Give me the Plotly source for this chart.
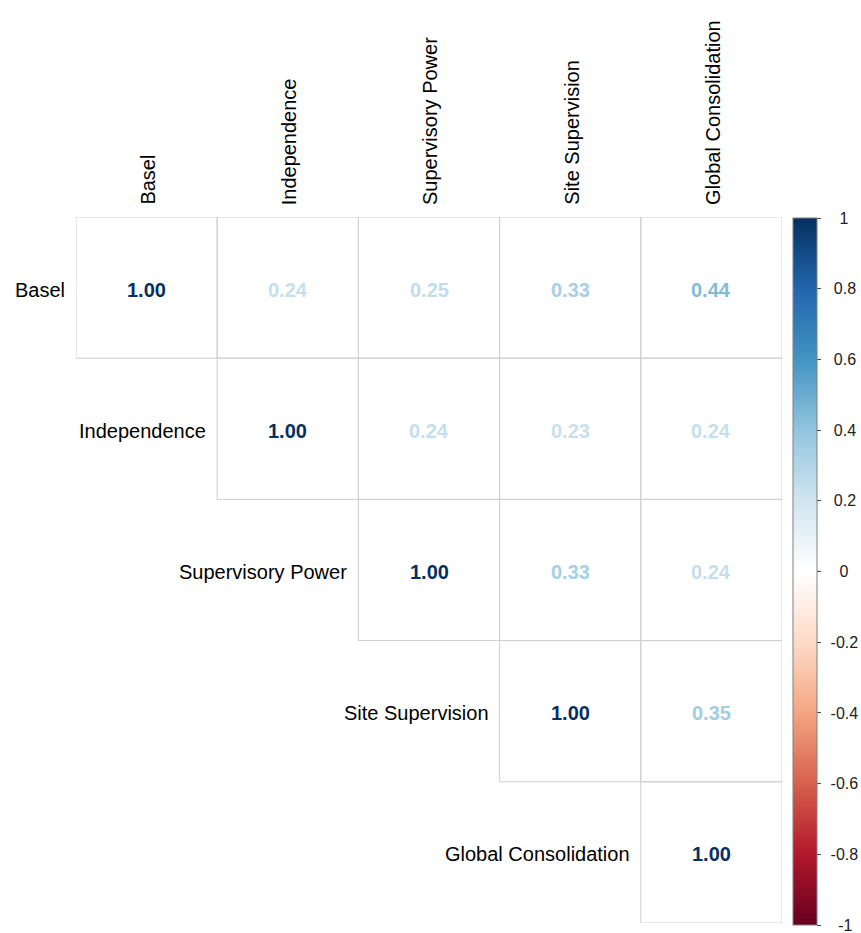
import plotly.graph_objects as go
from plotly.colors import sample_colorscale

labels = ["Basel", "Independence", "Supervisory Power", "Site Supervision", "Global Consolidation"]
corr = [
    [1.00, 0.24, 0.25, 0.33, 0.44],
    [None, 1.00, 0.24, 0.23, 0.24],
    [None, None, 1.00, 0.33, 0.24],
    [None, None, None, 1.00, 0.35],
    [None, None, None, None, 1.00],
]
cb_tickvals = [1, 0.8, 0.6, 0.4, 0.2, 0, -0.2, -0.4, -0.6, -0.8, -1]
cb_ticktext = ["1", "0.8", "0.6", "0.4", "0.2", "0", "-0.2", "-0.4", "-0.6", "-0.8", "-1"]

rdbu = ["#67001F", "#B2182B", "#D6604D", "#F4A582", "#FDDBC7", "#FFFFFF",
        "#D1E5F0", "#92C5DE", "#4393C3", "#2166AC", "#053061"]
colorscale = [[i / (len(rdbu) - 1), c] for i, c in enumerate(rdbu)]

FONT = "Liberation Sans, Arial, sans-serif"
n = len(labels)

NBSP, THIN, FIG = "\u00a0", "\u2009", "\u2007"


def centred(label):
    # pad so the left-aligned colorbar labels look centred like the reference
    base = THIN * 2
    if label in ("1", "0"):
        return base + FIG + label
    if label == "-1":
        return base + NBSP + THIN + label
    if label.startswith("-"):
        return base + label
    return base + THIN + label


xs, ys, vals, txt = [], [], [], []
for i in range(n):
    for j in range(n):
        v = corr[i][j]
        if v is None:
            continue
        xs.append(j)
        ys.append(i)
        vals.append(v)
        txt.append(f"{v:.2f}")
text_colors = sample_colorscale(colorscale, [(v + 1) / 2 for v in vals])

fig = go.Figure()

shapes = []
for i in range(n):
    for j in range(n):
        if corr[i][j] is None:
            continue
        shapes.append(dict(type="rect", xref="x", yref="y",
                           x0=j - 0.5, x1=j + 0.5, y0=i - 0.5, y1=i + 0.5,
                           line=dict(color="#cfcfcf", width=1), layer="below"))

fig.add_trace(go.Scatter(
    x=xs, y=ys, mode="markers",
    marker=dict(size=1, opacity=0, color=vals, colorscale=colorscale, cmin=-1, cmax=1,
                showscale=True,
                colorbar=dict(
                    x=(793 - 76) / 706, xanchor="left", xpad=0,
                    y=(923 - 571.5) / 706, yanchor="middle", ypad=0,
                    lenmode="pixels", len=707, thickness=24,
                    outlinecolor="#808080", outlinewidth=1,
                    tickmode="array", tickvals=cb_tickvals,
                    ticktext=[centred(t) for t in cb_ticktext],
                    ticks="outside", ticklen=4, tickcolor="#444444", tickwidth=1,
                    ticklabeloverflow="allow",
                    tickfont=dict(family=FONT, size=16, color="#222222"),
                )),
    hoverinfo="skip", showlegend=False,
))

annotations = []
# correlation values
for x, y, t, c in zip(xs, ys, txt, text_colors):
    annotations.append(dict(x=x, y=y, xref="x", yref="y", text=t, showarrow=False,
                            xanchor="center", yanchor="middle", yshift=-2,
                            font=dict(family=FONT, size=20, color=c, weight="bold")))
# row labels at the diagonal
for i, lab in enumerate(labels):
    annotations.append(dict(x=i - 0.5, y=i, xref="x", yref="y", text=lab,
                            showarrow=False, xanchor="right", yanchor="middle", xshift=-9,
                            yshift=-2,
                            font=dict(family=FONT, size=20, color="#000000")))
# column labels on top
for j, lab in enumerate(labels):
    annotations.append(dict(x=j, y=1, xref="x", yref="paper", text=lab,
                            showarrow=False, textangle=-90, xanchor="center", yanchor="bottom",
                            yshift=10, xshift=1,
                            font=dict(family=FONT, size=20, color="#000000")))

fig.update_layout(
    width=861, height=933,
    margin=dict(l=76, r=79, t=217, b=10, autoexpand=False),
    paper_bgcolor="white", plot_bgcolor="white",
    xaxis=dict(range=[-0.5, n - 0.5], visible=False, fixedrange=True),
    yaxis=dict(range=[n - 0.5, -0.5], visible=False, fixedrange=True),
    shapes=shapes, annotations=annotations,
)

fig.write_html("out.html")
